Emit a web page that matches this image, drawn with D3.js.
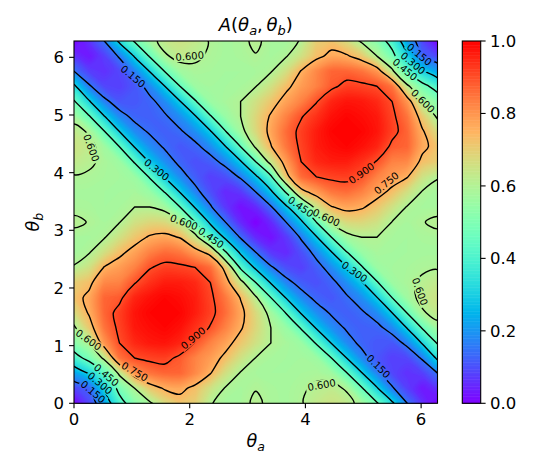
<!DOCTYPE html>
<html>
<head>
<meta charset="utf-8">
<script src="https://cdn.jsdelivr.net/npm/d3@7"></script>
<style>
  body { margin: 0; background: #fff; }
  text { font-family: "DejaVu Sans", sans-serif; }
</style>
</head>
<body>
<div id="chart"></div>
<script>
// A(theta_a, theta_b) read on a 25 x 25 grid, theta = k * 2pi/24
// rows: theta_b index 0..24 (bottom to top), columns: theta_a index 0..24
var aValues = [
  [0.00, 0.09, 0.22, 0.40, 0.52, 0.585, 0.67, 0.72, 0.70, 0.605, 0.575, 0.58, 0.612, 0.585, 0.575, 0.595, 0.63, 0.65, 0.63, 0.57, 0.46, 0.32, 0.15, 0.06, 0.00],
  [0.09, 0.13, 0.31, 0.49, 0.60, 0.71, 0.76, 0.77, 0.73, 0.655, 0.595, 0.578, 0.597, 0.582, 0.576, 0.59, 0.612, 0.625, 0.59, 0.46, 0.31, 0.16, 0.08, 0.03, 0.06],
  [0.22, 0.31, 0.44, 0.62, 0.80, 0.85, 0.87, 0.87, 0.82, 0.755, 0.66, 0.595, 0.58, 0.575, 0.575, 0.58, 0.585, 0.565, 0.455, 0.305, 0.17, 0.09, 0.06, 0.08, 0.15],
  [0.40, 0.49, 0.62, 0.85, 0.90, 0.915, 0.92, 0.885, 0.83, 0.79, 0.73, 0.655, 0.598, 0.58, 0.575, 0.575, 0.56, 0.45, 0.30, 0.18, 0.11, 0.08, 0.09, 0.16, 0.32],
  [0.52, 0.60, 0.80, 0.90, 0.95, 0.97, 0.975, 0.955, 0.895, 0.83, 0.78, 0.715, 0.655, 0.60, 0.58, 0.555, 0.44, 0.295, 0.185, 0.13, 0.11, 0.11, 0.17, 0.31, 0.46],
  [0.585, 0.71, 0.85, 0.915, 0.97, 0.985, 0.995, 0.98, 0.94, 0.895, 0.83, 0.76, 0.68, 0.60, 0.55, 0.44, 0.29, 0.19, 0.14, 0.12, 0.13, 0.18, 0.305, 0.46, 0.57],
  [0.67, 0.76, 0.87, 0.92, 0.975, 0.995, 1.0, 0.995, 0.965, 0.92, 0.86, 0.775, 0.675, 0.57, 0.445, 0.29, 0.19, 0.14, 0.12, 0.14, 0.185, 0.30, 0.455, 0.59, 0.63],
  [0.72, 0.77, 0.87, 0.885, 0.955, 0.98, 0.995, 0.985, 0.965, 0.915, 0.845, 0.745, 0.615, 0.45, 0.295, 0.185, 0.13, 0.11, 0.14, 0.19, 0.295, 0.45, 0.565, 0.625, 0.65],
  [0.70, 0.73, 0.82, 0.83, 0.895, 0.94, 0.965, 0.965, 0.95, 0.90, 0.79, 0.64, 0.45, 0.29, 0.175, 0.12, 0.10, 0.13, 0.19, 0.29, 0.44, 0.56, 0.585, 0.612, 0.63],
  [0.605, 0.655, 0.755, 0.79, 0.83, 0.895, 0.92, 0.915, 0.90, 0.86, 0.72, 0.43, 0.28, 0.16, 0.10, 0.08, 0.12, 0.185, 0.29, 0.44, 0.555, 0.575, 0.58, 0.59, 0.595],
  [0.575, 0.595, 0.66, 0.73, 0.78, 0.83, 0.86, 0.845, 0.79, 0.72, 0.46, 0.28, 0.15, 0.07, 0.05, 0.10, 0.175, 0.295, 0.445, 0.55, 0.58, 0.575, 0.575, 0.576, 0.575],
  [0.58, 0.578, 0.595, 0.655, 0.715, 0.76, 0.775, 0.745, 0.64, 0.43, 0.28, 0.14, 0.05, 0.02, 0.07, 0.16, 0.29, 0.45, 0.57, 0.60, 0.60, 0.58, 0.575, 0.582, 0.585],
  [0.612, 0.597, 0.58, 0.598, 0.655, 0.68, 0.675, 0.615, 0.45, 0.28, 0.15, 0.05, 0.00, 0.05, 0.15, 0.28, 0.45, 0.615, 0.675, 0.68, 0.655, 0.598, 0.58, 0.597, 0.612],
  [0.585, 0.582, 0.575, 0.58, 0.60, 0.60, 0.57, 0.45, 0.29, 0.16, 0.07, 0.02, 0.05, 0.14, 0.28, 0.43, 0.64, 0.745, 0.775, 0.76, 0.715, 0.655, 0.595, 0.578, 0.58],
  [0.575, 0.576, 0.575, 0.575, 0.58, 0.55, 0.445, 0.295, 0.175, 0.10, 0.05, 0.07, 0.15, 0.28, 0.46, 0.72, 0.79, 0.845, 0.86, 0.83, 0.78, 0.73, 0.66, 0.595, 0.575],
  [0.595, 0.59, 0.58, 0.575, 0.555, 0.44, 0.29, 0.185, 0.12, 0.08, 0.10, 0.16, 0.28, 0.43, 0.72, 0.86, 0.90, 0.915, 0.92, 0.895, 0.83, 0.79, 0.755, 0.655, 0.605],
  [0.63, 0.612, 0.585, 0.56, 0.44, 0.29, 0.19, 0.13, 0.10, 0.12, 0.175, 0.29, 0.45, 0.64, 0.79, 0.90, 0.95, 0.965, 0.965, 0.94, 0.895, 0.83, 0.82, 0.73, 0.70],
  [0.65, 0.625, 0.565, 0.45, 0.295, 0.19, 0.14, 0.11, 0.13, 0.185, 0.295, 0.45, 0.615, 0.745, 0.845, 0.915, 0.965, 0.985, 0.995, 0.98, 0.955, 0.885, 0.87, 0.77, 0.72],
  [0.63, 0.59, 0.455, 0.30, 0.185, 0.14, 0.12, 0.14, 0.19, 0.29, 0.445, 0.57, 0.675, 0.775, 0.86, 0.92, 0.965, 0.995, 1.0, 0.995, 0.975, 0.92, 0.87, 0.76, 0.67],
  [0.57, 0.46, 0.305, 0.18, 0.13, 0.12, 0.14, 0.19, 0.29, 0.44, 0.55, 0.60, 0.68, 0.76, 0.83, 0.895, 0.94, 0.98, 0.995, 0.985, 0.97, 0.915, 0.85, 0.71, 0.585],
  [0.46, 0.31, 0.17, 0.11, 0.11, 0.13, 0.185, 0.295, 0.44, 0.555, 0.58, 0.60, 0.655, 0.715, 0.78, 0.83, 0.895, 0.955, 0.975, 0.97, 0.95, 0.90, 0.80, 0.60, 0.52],
  [0.32, 0.16, 0.09, 0.08, 0.11, 0.18, 0.30, 0.45, 0.56, 0.575, 0.575, 0.58, 0.598, 0.655, 0.73, 0.79, 0.83, 0.885, 0.92, 0.915, 0.90, 0.85, 0.62, 0.49, 0.40],
  [0.15, 0.08, 0.06, 0.09, 0.17, 0.305, 0.455, 0.565, 0.585, 0.58, 0.575, 0.575, 0.58, 0.595, 0.66, 0.755, 0.82, 0.87, 0.87, 0.85, 0.80, 0.62, 0.44, 0.31, 0.22],
  [0.06, 0.03, 0.08, 0.16, 0.31, 0.46, 0.59, 0.625, 0.612, 0.59, 0.576, 0.582, 0.597, 0.578, 0.595, 0.655, 0.73, 0.77, 0.76, 0.71, 0.60, 0.49, 0.31, 0.13, 0.09],
  [0.00, 0.06, 0.15, 0.32, 0.46, 0.57, 0.63, 0.65, 0.63, 0.595, 0.575, 0.585, 0.612, 0.58, 0.575, 0.605, 0.70, 0.72, 0.67, 0.585, 0.52, 0.40, 0.22, 0.09, 0.00]
];

var xTickValues = [0, 2, 4, 6];
var yTickValues = [0, 1, 2, 3, 4, 5, 6];
var colorTickValues = [0.0, 0.2, 0.4, 0.6, 0.8, 1.0];
var contourLevels = [0.15, 0.30, 0.45, 0.60, 0.75, 0.90];

// inline contour labels: [text, theta_a, theta_b, rotation]
var contourLabels = [
  ['0.600', 2.00, 6.02, -5],
  ['0.150', 1.02, 5.67, 40],
  ['0.600', 0.30, 4.43, 70],
  ['0.300', 1.43, 4.05, 38],
  ['0.600', 1.90, 3.14, 20],
  ['0.150', 5.97, 6.05, 40],
  ['0.300', 5.86, 5.90, 40],
  ['0.450', 5.72, 5.79, 40],
  ['0.600', 6.03, 5.24, 45],
  ['0.900', 4.97, 3.99, -35],
  ['0.750', 5.40, 3.82, -40],
  ['0.450', 3.92, 3.41, 35],
  ['0.600', 4.36, 3.22, 25],
  ['0.450', 2.37, 2.87, 35],
  ['0.900', 2.06, 1.13, -40],
  ['0.600', 0.25, 1.10, 35],
  ['0.750', 1.05, 0.55, 30],
  ['0.450', 0.56, 0.49, 40],
  ['0.300', 0.45, 0.35, 40],
  ['0.150', 0.33, 0.20, 40],
  ['0.300', 4.85, 2.28, 35],
  ['0.600', 5.98, 1.94, 70],
  ['0.150', 5.26, 0.64, 45],
  ['0.600', 4.28, 0.32, -10]
];

var width = 548,
	height = 468;

var plot = {left: 74, right: 437.5, top: 41, bottom: 403.3};

var svg = d3.select('#chart').append('svg')
	.attr('width', width)
	.attr('height', height);

svg.append('rect')
	.attr('width', width)
	.attr('height', height)
	.attr('fill', '#fff');

var x = d3.scaleLinear().domain([0, 2 * Math.PI]).range([plot.left, plot.right]);
var y = d3.scaleLinear().domain([0, 2 * Math.PI]).range([plot.bottom, plot.top]);

// matplotlib "rainbow" colormap
function rainbow(t) {
	t = Math.max(0, Math.min(1, t));
	var r = Math.min(1, Math.abs(2 * t - 0.5)),
		g = Math.sin(Math.PI * t),
		b = Math.cos(Math.PI * t / 2);
	return d3.rgb(r * 255, g * 255, b * 255).formatHex();
}

var ny = aValues.length,
	nx = aValues[0].length,
	step = 2 * Math.PI / (nx - 1);

var flat = [];
aValues.forEach(function(row) {
	row.forEach(function(v) { flat.push(v); });
});

// contour rings come back in grid space (cell centres at k + 0.5);
// map them to screen and draw them as smooth closed curves
var ringLine = d3.line().curve(d3.curveCatmullRomClosed.alpha(0.5));

function smoothPath(geom) {
	var s = '';
	geom.coordinates.forEach(function(polygon) {
		polygon.forEach(function(ring) {
			var pts = ring.slice(0, -1).map(function(p) {
				return [x((p[0] - 0.5) * step), y((p[1] - 0.5) * step)];
			});
			if (pts.length > 2) s += ringLine(pts);
		});
	});
	return s;
}

var defs = svg.append('defs');
defs.append('clipPath')
	.attr('id', 'plotClip')
	.append('rect')
	.attr('x', plot.left)
	.attr('y', plot.top)
	.attr('width', plot.right - plot.left)
	.attr('height', plot.bottom - plot.top);

// filled colour field
var fillLevels = d3.range(0, 1, 0.005);
var bands = d3.contours().size([nx, ny]).thresholds(fillLevels)(flat);

svg.append('g')
	.attr('clip-path', 'url(#plotClip)')
	.selectAll('path')
	.data(bands)
	.enter()
	.append('path')
	.attr('d', smoothPath)
	.attr('fill', function(d) { return rainbow(d.value + 0.0025); });

// mask that cuts the contour lines where labels sit
var labelFont = 10;
var mask = defs.append('mask').attr('id', 'labelMask');
mask.append('rect')
	.attr('width', width)
	.attr('height', height)
	.attr('fill', '#fff');
mask.selectAll('rect.gap')
	.data(contourLabels)
	.enter()
	.append('rect')
	.classed('gap', true)
	.attr('x', -16)
	.attr('y', -5)
	.attr('width', 32)
	.attr('height', 10)
	.attr('fill', '#000')
	.attr('transform', function(d) {
		return 'translate(' + x(d[1]) + ',' + y(d[2]) + ') rotate(' + d[3] + ')';
	});

var lines = d3.contours().size([nx, ny]).thresholds(contourLevels)(flat);

svg.append('g')
	.attr('clip-path', 'url(#plotClip)')
	.append('g')
	.attr('mask', 'url(#labelMask)')
	.selectAll('path')
	.data(lines)
	.enter()
	.append('path')
	.attr('d', smoothPath)
	.attr('fill', 'none')
	.attr('stroke', '#000')
	.attr('stroke-width', 1.4)
	.attr('stroke-linejoin', 'round');

svg.append('g')
	.selectAll('text')
	.data(contourLabels)
	.enter()
	.append('text')
	.attr('transform', function(d) {
		return 'translate(' + x(d[1]) + ',' + y(d[2]) + ') rotate(' + d[3] + ')';
	})
	.attr('text-anchor', 'middle')
	.attr('dy', '0.36em')
	.style('font-size', labelFont + 'px')
	.text(function(d) { return d[0]; });

// frame
svg.append('rect')
	.attr('x', plot.left)
	.attr('y', plot.top)
	.attr('width', plot.right - plot.left)
	.attr('height', plot.bottom - plot.top)
	.attr('fill', 'none')
	.attr('stroke', '#000')
	.attr('stroke-width', 1.1);

var tickFont = 16.5;

// x axis
var xAxis = svg.append('g');
xAxis.selectAll('line')
	.data(xTickValues)
	.enter()
	.append('line')
	.attr('x1', function(d) { return x(d); })
	.attr('x2', function(d) { return x(d); })
	.attr('y1', plot.bottom)
	.attr('y2', plot.bottom + 4.9)
	.attr('stroke', '#000')
	.attr('stroke-width', 1.1);
xAxis.selectAll('text')
	.data(xTickValues)
	.enter()
	.append('text')
	.attr('x', function(d) { return x(d); })
	.attr('y', 425)
	.attr('text-anchor', 'middle')
	.style('font-size', tickFont + 'px')
	.text(function(d) { return d; });

// y axis
var yAxis = svg.append('g');
yAxis.selectAll('line')
	.data(yTickValues)
	.enter()
	.append('line')
	.attr('x1', plot.left - 4.9)
	.attr('x2', plot.left)
	.attr('y1', function(d) { return y(d); })
	.attr('y2', function(d) { return y(d); })
	.attr('stroke', '#000')
	.attr('stroke-width', 1.1);
yAxis.selectAll('text')
	.data(yTickValues)
	.enter()
	.append('text')
	.attr('x', 64)
	.attr('y', function(d) { return y(d) + 6; })
	.attr('text-anchor', 'end')
	.style('font-size', tickFont + 'px')
	.text(function(d) { return d; });

// axis labels
var xLabel = svg.append('text')
	.attr('x', (plot.left + plot.right) / 2)
	.attr('y', 447)
	.attr('text-anchor', 'middle')
	.style('font-size', '17.5px');
xLabel.append('tspan').style('font-style', 'italic').text('θ');
xLabel.append('tspan').style('font-style', 'italic').style('font-size', '12.5px').attr('dy', 4).text('a');

var yLabel = svg.append('text')
	.attr('transform', 'translate(39,' + ((plot.top + plot.bottom) / 2) + ') rotate(-90)')
	.attr('text-anchor', 'middle')
	.style('font-size', '17.5px');
yLabel.append('tspan').style('font-style', 'italic').text('θ');
yLabel.append('tspan').style('font-style', 'italic').style('font-size', '12.5px').attr('dy', 4).text('b');

// title
var title = svg.append('text')
	.attr('x', (plot.left + plot.right) / 2)
	.attr('y', 31)
	.attr('text-anchor', 'middle')
	.style('font-size', '18px');
title.append('tspan').style('font-style', 'italic').text('A');
title.append('tspan').text('(');
title.append('tspan').style('font-style', 'italic').text('θ');
title.append('tspan').style('font-style', 'italic').style('font-size', '13px').attr('dy', 4).text('a');
title.append('tspan').attr('dy', -4).text(',\u2009');
title.append('tspan').style('font-style', 'italic').text('θ');
title.append('tspan').style('font-style', 'italic').style('font-size', '13px').attr('dy', 4).text('b');
title.append('tspan').attr('dy', -4).text(')');

// colour bar
var cb = {left: 462.3, right: 480.7, top: 41, bottom: 403.3};
var cbScale = d3.scaleLinear().domain([0, 1]).range([cb.bottom, cb.top]);
var cbSteps = d3.range(0, 1, 1 / 256);

svg.append('g')
	.selectAll('rect')
	.data(cbSteps)
	.enter()
	.append('rect')
	.attr('x', cb.left)
	.attr('width', cb.right - cb.left)
	.attr('y', function(d) { return cbScale(d + 1 / 256); })
	.attr('height', function(d) { return cbScale(d) - cbScale(d + 1 / 256) + 0.5; })
	.attr('fill', function(d) { return rainbow(d + 0.5 / 256); });

svg.append('rect')
	.attr('x', cb.left)
	.attr('y', cb.top)
	.attr('width', cb.right - cb.left)
	.attr('height', cb.bottom - cb.top)
	.attr('fill', 'none')
	.attr('stroke', '#000')
	.attr('stroke-width', 1.1);

var cbAxis = svg.append('g');
cbAxis.selectAll('line')
	.data(colorTickValues)
	.enter()
	.append('line')
	.attr('x1', cb.right)
	.attr('x2', cb.right + 4.9)
	.attr('y1', function(d) { return cbScale(d); })
	.attr('y2', function(d) { return cbScale(d); })
	.attr('stroke', '#000')
	.attr('stroke-width', 1.1);
cbAxis.selectAll('text')
	.data(colorTickValues)
	.enter()
	.append('text')
	.attr('x', 490)
	.attr('y', function(d) { return cbScale(d) + 6; })
	.style('font-size', tickFont + 'px')
	.text(function(d) { return d.toFixed(1); });
</script>
</body>
</html>
